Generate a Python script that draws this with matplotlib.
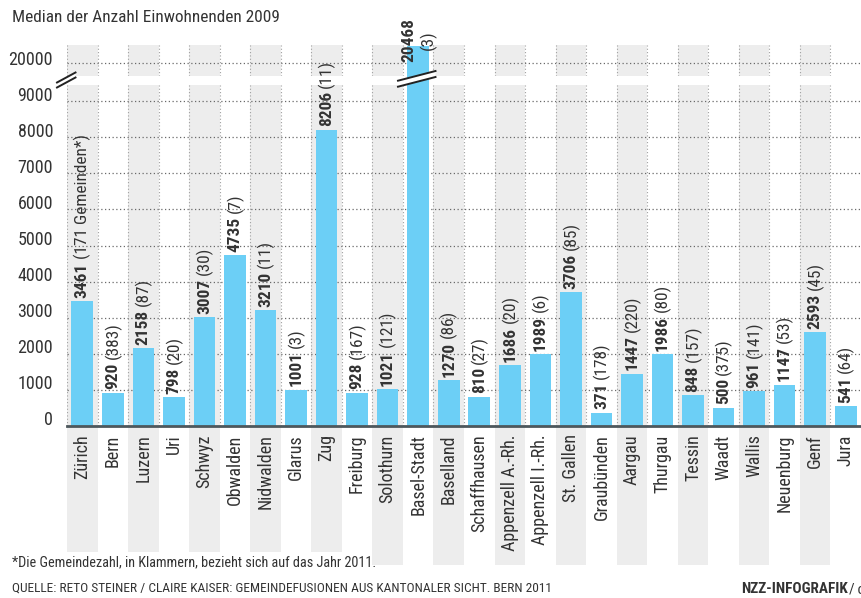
import matplotlib
matplotlib.use("Agg")
import matplotlib.pyplot as plt
from matplotlib import font_manager as fm
from matplotlib.lines import Line2D
from matplotlib.patches import Polygon
from matplotlib.transforms import Bbox

CANTONS = ['Zürich', 'Bern', 'Luzern', 'Uri', 'Schwyz', 'Obwalden', 'Nidwalden', 'Glarus',
           'Zug', 'Freiburg', 'Solothurn', 'Basel-Stadt', 'Baselland', 'Schaffhausen',
           'Appenzell A.-Rh.', 'Appenzell I.-Rh.', 'St. Gallen', 'Graubünden', 'Aargau',
           'Thurgau', 'Tessin', 'Waadt', 'Wallis', 'Neuenburg', 'Genf', 'Jura']
MEDIAN_POP = [3461, 920, 2158, 798, 3007, 4735, 3210, 1001, 8206, 928, 1021, 20468, 1270,
              810, 1686, 1989, 3706, 371, 1447, 1986, 848, 500, 961, 1147, 2593, 541]
MUNICIPALITIES = [171, 383, 87, 20, 30, 7, 11, 3, 11, 167, 121, 3, 86, 27, 20, 6, 85, 178,
                  220, 80, 157, 375, 141, 53, 45, 64]
Y_TICKS = [0, 1000, 2000, 3000, 4000, 5000, 6000, 7000, 8000, 9000]
TOP_TICK = 20000

TITLE = 'Median der Anzahl Einwohnenden 2009'
FOOTNOTE = '*Die Gemeindezahl, in Klammern, bezieht sich auf das Jahr 2011.'
SOURCE = 'QUELLE: RETO STEINER / CLAIRE KAISER: GEMEINDEFUSIONEN AUS KANTONALER SICHT. BERN 2011'

BAR_COLOR = '#6ccff6'
BAND_COLOR = '#ededed'
TEXT_COLOR = '#333333'
AXIS_COLOR = '#4d575c'


def pick_condensed_font():
    """Find a narrow sans family, the original uses a condensed grotesque."""
    entries = fm.fontManager.ttflist
    names = {e.name for e in entries}
    for fam in ['Liberation Sans Narrow', 'Roboto Condensed', 'Open Sans Condensed',
                'Noto Sans Condensed', 'DejaVu Sans Condensed']:
        if fam in names:
            return fam, 'normal', 1.0
    for e in entries:
        if 'Narrow' in e.name or 'Condensed' in e.name:
            return e.name, 'normal', 1.0
    for e in entries:
        if e.name == 'DejaVu Sans' and str(e.stretch) in ('condensed', 'semi-condensed'):
            return 'DejaVu Sans', 'condensed', 0.92
    return 'Roboto', 'normal', 0.9


FONT, STRETCH, SCALE = pick_condensed_font()
plt.rcParams['font.family'] = [FONT, 'DejaVu Sans']
plt.rcParams['font.stretch'] = STRETCH
FS = 13 * SCALE          # axis labels
FS_VAL = 12.4 * SCALE    # labels on the bars

W, H = 861, 598
fig = plt.figure(figsize=(W / 100, H / 100), dpi=100)


def px_rect(left, top, right, bottom):
    return [left / W, 1 - bottom / H, (right - left) / W, (bottom - top) / H]


def px(x, y):
    return x / W, 1 - y / H


ax = fig.add_axes(px_rect(67, 85, 861, 426))
ax_top = fig.add_axes(px_rect(67, 45, 861, 76))
# lower panel on top, so its labels can run over the upper panel
ax.set_zorder(2)
ax.patch.set_visible(False)

n = len(CANTONS)
x = list(range(n))
for a in (ax, ax_top):
    a.set_xlim(-0.5, n - 0.5)
    for s in a.spines.values():
        s.set_visible(False)
    a.set_yticks([])
ax.set_ylim(0, 9450)
ax_top.set_ylim(19648, 20507)
ax_top.set_xticks([])

# alternating grey columns, reaching down behind the canton names
for i in range(0, n, 2):
    low = -0.37 if i < 10 else -0.408
    band = ax.axvspan(i - 0.5, i + 0.5, ymin=low, ymax=1, color=BAND_COLOR, lw=0, zorder=0)
    band.set_clip_on(False)
    ax_top.axvspan(i - 0.5, i + 0.5, color=BAND_COLOR, lw=0, zorder=0)

# dotted grid
for v in Y_TICKS[1:]:
    ax.axhline(v, color='#6a6a6a', lw=0.9, ls=(0, (1, 2)), zorder=1)
ax_top.axhline(TOP_TICK, color='#6a6a6a', lw=0.9, ls=(0, (1, 2)), zorder=1)
for k in range(n):
    ax.axvline(k - 0.5, color='#a0a0a0', lw=0.8, ls=(0, (1, 2)), zorder=1)
    ax_top.axvline(k - 0.5, color='#a0a0a0', lw=0.8, ls=(0, (1, 2)), zorder=1)
ax.axhline(0, color=AXIS_COLOR, lw=2, zorder=4, clip_on=False)

# bars: lower panel bars may run through the gap up to the upper panel
bars = ax.bar(x, MEDIAN_POP, width=0.71, color=BAR_COLOR, lw=0, zorder=2)
clip = Bbox.from_extents(ax.bbox.x0, ax.bbox.y0, ax.bbox.x1, ax_top.bbox.y0)
for b in bars:
    b.set_clip_box(clip)
ax_top.bar(x, MEDIAN_POP, width=0.71, color=BAR_COLOR, lw=0, zorder=2)

# axis labels
ax.set_xticks(x)
ax.set_xticklabels(CANTONS, rotation=90, fontsize=FS, color=TEXT_COLOR)
ax.tick_params(axis='x', length=0, pad=6)
for v in Y_TICKS:
    ax.annotate(f'{v}', xy=(0, v), xycoords=('axes fraction', 'data'), xytext=(-10, 4),
                textcoords='offset points', ha='right', va='center', fontsize=FS,
                color=TEXT_COLOR, annotation_clip=False)
ax_top.annotate(f'{TOP_TICK}', xy=(0, TOP_TICK), xycoords=('axes fraction', 'data'),
                xytext=(-10, 2.5), textcoords='offset points', ha='right', va='center',
                fontsize=FS, color=TEXT_COLOR, annotation_clip=False)

# value labels: bold median, then municipality count
renderer = fig.canvas.get_renderer()
ymax = ax.get_ylim()[1]
for i, (v, m) in enumerate(zip(MEDIAN_POP, MUNICIPALITIES)):
    count = f'({m} Gemeinden*)' if i == 0 else f'({m})'
    if v < ymax:
        t1 = ax.annotate(f'{v}', xy=(i, v), xytext=(0, 2.5), textcoords='offset points',
                         rotation=90, ha='center', va='bottom', fontsize=FS_VAL,
                         fontweight='bold', color=TEXT_COLOR, zorder=5)
        h = t1.get_window_extent(renderer).height * 72 / fig.dpi
        ax.annotate(count, xy=(i, v), xytext=(0, 2.5 + h + 2.5), textcoords='offset points',
                    rotation=90, ha='center', va='bottom', fontsize=FS_VAL,
                    color=TEXT_COLOR, zorder=5, annotation_clip=False)
    else:
        ax_top.annotate(f'{v}', xy=(i, v), xytext=(-6.5, -11.5), textcoords='offset points',
                        rotation=90, ha='center', va='bottom', fontsize=FS_VAL,
                        fontweight='bold', color=TEXT_COLOR, zorder=5, annotation_clip=False)
        ax_top.annotate(count, xy=(i, v), xytext=(7, -2.5), textcoords='offset points',
                        rotation=90, ha='center', va='bottom', fontsize=FS_VAL,
                        color=TEXT_COLOR, zorder=5, annotation_clip=False)


# axis break marks
def break_mark(x0, y0, x1, y1, gap):
    poly = Polygon([px(x0, y0), px(x1, y1), px(x1, y1 + gap), px(x0, y0 + gap)],
                   closed=True, transform=fig.transFigure, facecolor='white',
                   edgecolor='none', zorder=6)
    fig.add_artist(poly)
    for dy in (0, gap):
        xs, ys = zip(px(x0, y0 + dy), px(x1, y1 + dy))
        fig.add_artist(Line2D(xs, ys, transform=fig.transFigure, color='#222222',
                              lw=1.4, zorder=7))


break_mark(57, 82.5, 75.5, 72.5, 5)
break_mark(398, 80.7, 435.5, 71, 6)

# texts
fig.text(*px(12, 17), TITLE, fontsize=12.4 * SCALE, color=TEXT_COLOR, va='center')
fig.text(*px(12, 562), FOOTNOTE, fontsize=10.3 * SCALE, color=TEXT_COLOR, va='center')
fig.text(*px(12, 588), SOURCE, fontsize=9.6 * SCALE, color=TEXT_COLOR, va='center')
nzz = fig.text(*px(741, 589), 'NZZ-INFOGRAFIK', fontsize=11 * SCALE, fontweight='bold',
               color=TEXT_COLOR, va='center')
nx1 = nzz.get_window_extent(renderer).x1
fig.text((nx1 + 1) / W, 1 - 589 / H, '/\u2009cke', fontsize=11 * SCALE, color=TEXT_COLOR,
         va='center')

fig.savefig('out.png', dpi=100)
